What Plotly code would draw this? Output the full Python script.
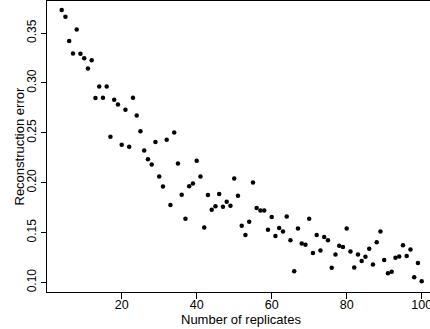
import plotly.graph_objects as go

replicates = list(range(4, 101))
recon_error = [
    0.3731, 0.3664, 0.3420, 0.3296, 0.3537, 0.3292, 0.3249, 0.3145, 0.3228, 0.2849,  # 4-13
    0.2964, 0.2853, 0.2964, 0.2461, 0.2833, 0.2783, 0.2380, 0.2732, 0.2360, 0.2853,  # 14-23
    0.2675, 0.2517, 0.2323, 0.2236, 0.2182, 0.2407, 0.2061, 0.1961, 0.2431, 0.1777,  # 24-33
    0.2504, 0.2192, 0.1880, 0.1639, 0.1964, 0.1991, 0.2219, 0.2061, 0.1551, 0.1877,  # 34-43
    0.1729, 0.1763, 0.1887, 0.1760, 0.1810, 0.1770, 0.2041, 0.1870, 0.1568, 0.1475,  # 44-53
    0.1609, 0.2001, 0.1746, 0.1722, 0.1722, 0.1528, 0.1656, 0.1465, 0.1545, 0.1511,  # 54-63
    0.1662, 0.1424, 0.1112, 0.1541, 0.1390, 0.1377, 0.1639, 0.1294, 0.1475, 0.1320,  # 64-73
    0.1455, 0.1424, 0.1146, 0.1280, 0.1367, 0.1354, 0.1541, 0.1310, 0.1149, 0.1280,  # 74-83
    0.1216, 0.1257, 0.1337, 0.1179, 0.1404, 0.1511, 0.1226, 0.1093, 0.1106, 0.1247,  # 84-93
    0.1260, 0.1374, 0.1264, 0.1330, 0.1053, 0.1196, 0.1012,                          # 94-100
]
x_ticks = [20, 40, 60, 80, 100]
y_ticks = [0.10, 0.15, 0.20, 0.25, 0.30, 0.35]
y_ticklabels = ["0.10", "0.15", "0.20", "0.25", "0.30", "0.35"]
x_title = "Number of replicates"
y_title = "Reconstruction error"

FONT = "Liberation Sans, Arial, Helvetica, sans-serif"

fig = go.Figure(
    go.Scatter(
        x=replicates,
        y=recon_error,
        mode="markers",
        marker=dict(color="black", size=4.5, line=dict(width=0)),
        showlegend=False,
    )
)

fig.update_layout(
    width=430,
    height=329,
    margin=dict(l=47, r=0, t=1, b=37, pad=0),
    paper_bgcolor="white",
    plot_bgcolor="white",
    font=dict(family=FONT, color="black", size=13),
    xaxis=dict(
        range=[0.08, 102.21],
        tickvals=x_ticks,
        ticktext=[str(v) for v in x_ticks],
        ticks="outside",
        ticklen=6,
        tickwidth=1,
        tickcolor="black",
        showline=True,
        linecolor="black",
        linewidth=1,
        mirror=True,
        showgrid=False,
        zeroline=False,
        automargin=False,
        ticklabeloverflow="allow",
        ticklabelstandoff=-5,
        tickfont=dict(size=12.5),
    ),
    yaxis=dict(
        range=[0.0904, 0.3822],
        tickvals=y_ticks,
        ticktext=y_ticklabels,
        tickangle=-90,
        ticks="outside",
        ticklen=5,
        tickwidth=1,
        tickcolor="black",
        showline=True,
        linecolor="black",
        linewidth=1,
        mirror=False,
        showgrid=False,
        zeroline=False,
        automargin=False,
        ticklabeloverflow="allow",
        tickfont=dict(size=12),
    ),
    annotations=[
        dict(
            text=x_title, xref="paper", yref="paper",
            x=(241 - 47) / 383, y=-(319 - 292) / 291,
            xanchor="center", yanchor="middle", showarrow=False,
            borderpad=0,
            font=dict(size=13),
        ),
        dict(
            text=y_title, xref="paper", yref="paper",
            x=-(47 - 19) / 383, y=0.5, textangle=-90,
            xanchor="center", yanchor="middle", showarrow=False,
            borderpad=0,
            font=dict(size=13),
        ),
    ],
)

fig.write_html(
    "out.html",
    config={"displayModeBar": False},
    post_script="document.body.style.margin='0';document.body.style.overflow='hidden';",
)
